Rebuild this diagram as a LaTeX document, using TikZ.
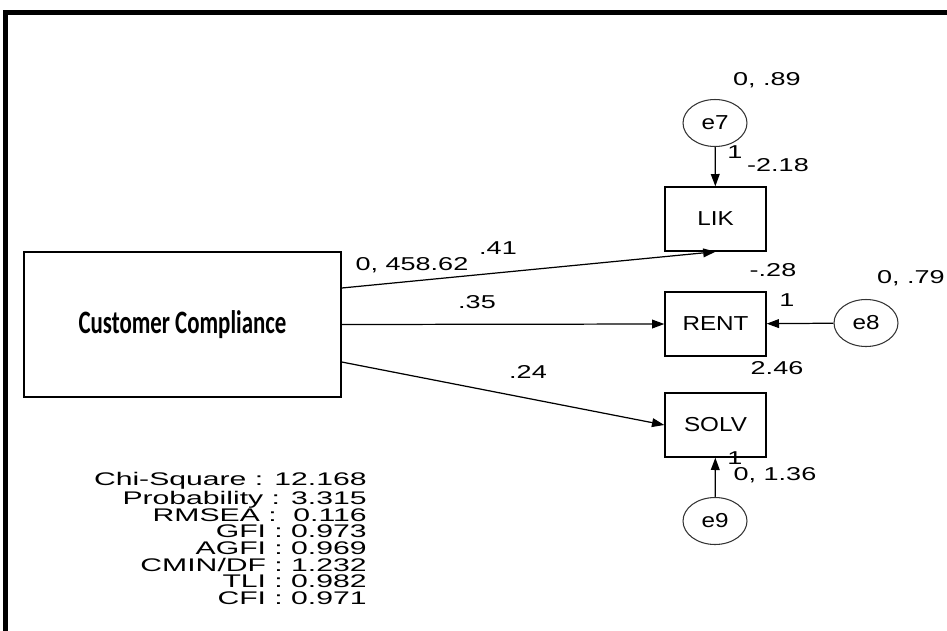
\documentclass[tikz,border=0pt]{standalone}
\usepackage{fontspec}
\setmainfont{Liberation Sans}
\newfontfamily\amosfont[FakeStretch=1.45]{Liberation Sans}
\newfontfamily\fitfont[FakeStretch=1.65]{Liberation Sans}
\newfontfamily\boxfont[FakeStretch=1.2]{Liberation Sans}
\newfontfamily\titlefont[FakeStretch=0.7]{Carlito}
\usetikzlibrary{arrows.meta,shapes.geometric}

\begin{document}
\begin{tikzpicture}[
    x=0.02cm, y={(0,-0.02cm)},
    obs/.style={draw, line width=0.8pt, minimum width=2.02cm, minimum height=1.28cm, inner sep=0pt, font=\boxfont\fontsize{11.5}{12}\selectfont},
    err/.style={draw=black!80, ellipse, line width=0.6pt, minimum width=1.28cm, minimum height=0.94cm, inner sep=0pt, font=\boxfont\fontsize{11.5}{12}\selectfont},
    est/.style={inner sep=0pt, font=\amosfont\fontsize{10.6}{10}\selectfont},
    arrow/.style={-{Triangle[length=7pt,width=5pt]}, line width=0.7pt}
]
    \useasboundingbox (0,0) rectangle (947,630);
    % frame
    \draw[line width=2.3pt] (5.5,640) -- (5.5,12.5) -- (960,12.5);

    % latent and observed variables
    \node[draw, line width=0.8pt, minimum width=6.34cm, minimum height=2.9cm, font=\titlefont\bfseries\fontsize{18.6}{20}\selectfont] (cc) at (182.5,324.5) {Customer Compliance};
    \node[obs] (lik) at (715.5,219) {LIK};
    \node[obs] (rent) at (715.5,324) {RENT};
    \node[obs] (solv) at (715.5,425) {SOLV};
    \node[err] (e7) at (715,123) {e7};
    \node[err] (e8) at (866,323) {e8};
    \node[err] (e9) at (715,521) {e9};

    \draw[arrow] ([yshift=0.73cm]cc.east) -- (lik.south);
    \draw[arrow] (cc.east) -- (rent.west);
    \draw[arrow] ([yshift=-0.75cm]cc.east) -- (solv.west);
    \draw[arrow] (e7) -- (lik);
    \draw[arrow] (e8) -- (rent);
    \draw[arrow] (e9) -- (solv);

    % estimates
    \node[est] (v7) at (767,80) {0, .89};
    \node[est] (w7) at (735,152) {1};
    \node[est] (i7) at (778,165) {-2.18};
    \node[est] (i8) at (773,270) {-.28};
    \node[est] (w8) at (787,300) {1};
    \node[est, anchor=east] (v8) at (945,278) {0, .79};
    \node[est] (r8) at (777,368) {2.46};
    \node[est] (w9) at (735,458) {1};
    \node[est] (v9) at (775,475) {0, 1.36};
    \node[est] (vcc) at (412,265) {0, 458.62};
    \node[est] (b1) at (498,248) {.41};
    \node[est] (b2) at (477,302) {.35};
    \node[est] (b3) at (528,372) {.24};

    % fit indices
    \node[inner sep=0pt, anchor=north east, align=right, font=\fitfont\fontsize{10.4}{9.5}\selectfont] (fit) at (367,472) {Chi-Square : 12.168\\Probability : 3.315\\RMSEA :\ \ 0.116\\GFI : 0.973\\AGFI : 0.969\\CMIN/DF : 1.232\\TLI : 0.982\\CFI : 0.971};
\end{tikzpicture}
\end{document}
